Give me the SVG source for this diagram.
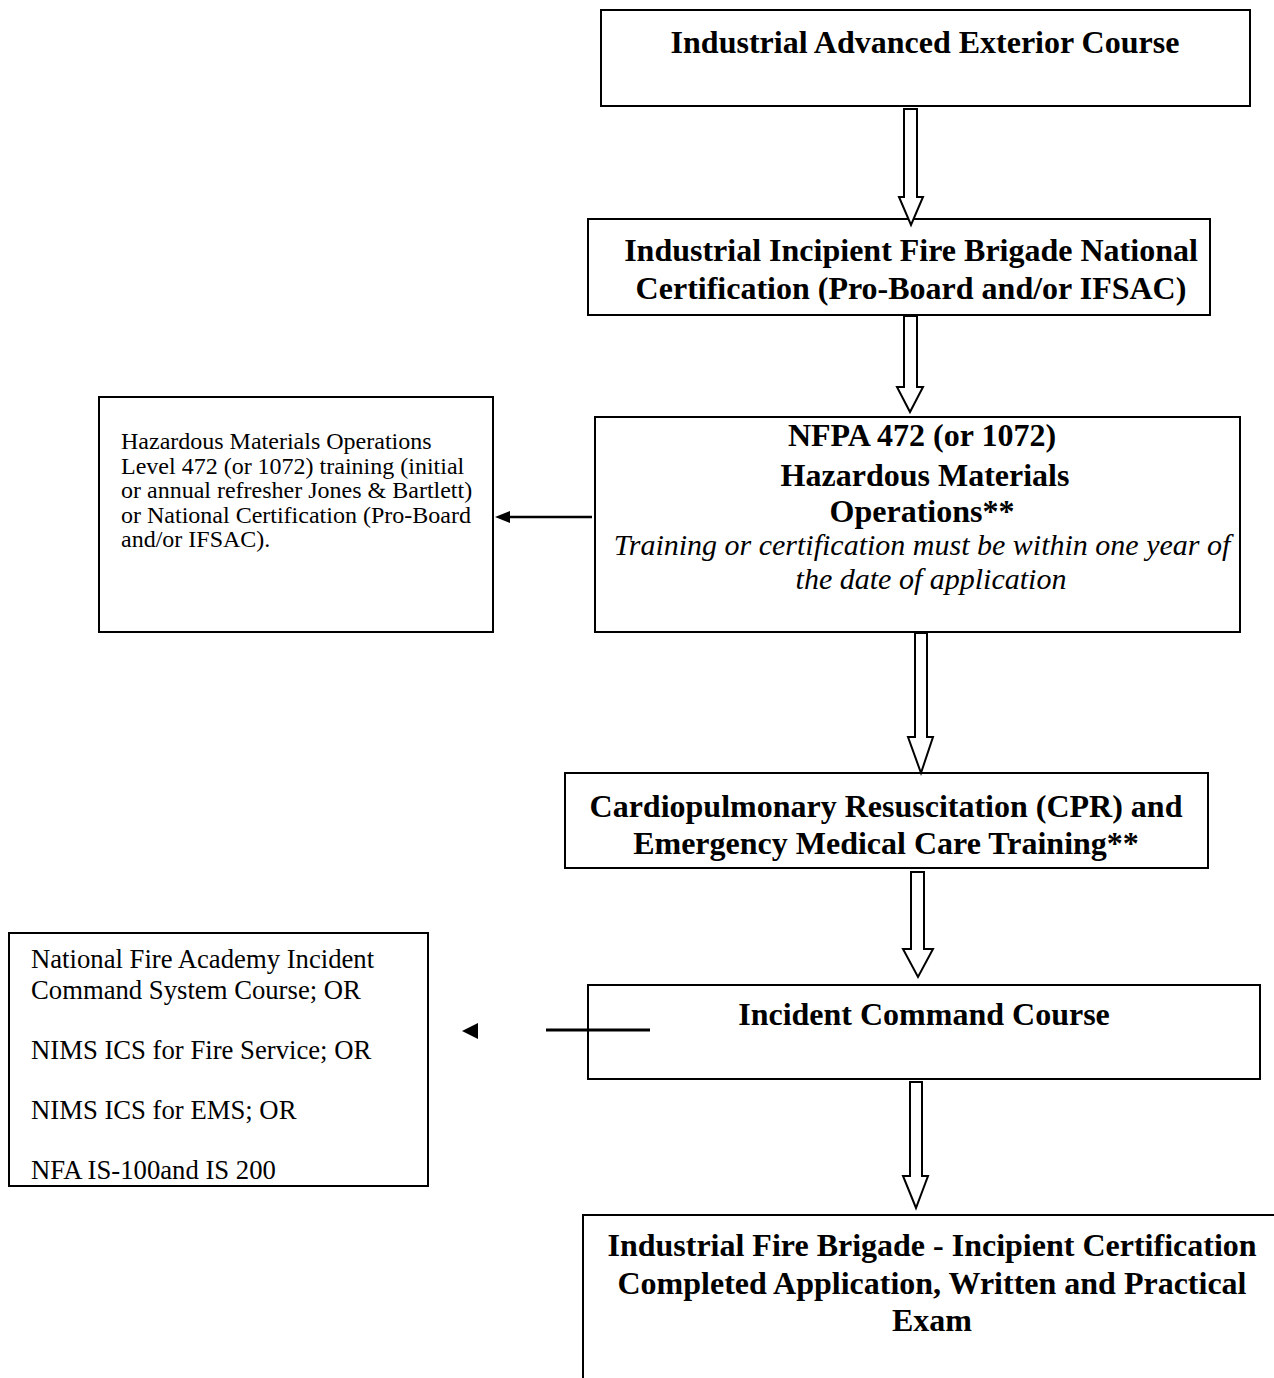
<svg xmlns="http://www.w3.org/2000/svg" width="1274" height="1378" viewBox="0 0 1274 1378">
<style>
.box{fill:#fff;stroke:#000;stroke-width:2}
.b{font-family:"Liberation Serif","Times New Roman",serif;font-weight:bold;font-size:32px;text-anchor:middle;fill:#000}
.i{font-family:"Liberation Serif","Times New Roman",serif;font-style:italic;font-size:30px;text-anchor:middle;fill:#000}
.s{font-family:"Liberation Serif","Times New Roman",serif;font-size:24px;fill:#000}
.m{font-family:"Liberation Serif","Times New Roman",serif;font-size:26.7px;fill:#000}
.ba{fill:#fff;stroke:#000;stroke-width:2;stroke-linejoin:miter}
</style>
<rect width="1274" height="1378" fill="#fff"/>
<g id="n1"><rect class="box" x="601" y="10" width="649" height="96"/>
<text class="b" x="925" y="53">Industrial Advanced Exterior Course</text></g>
<g id="n2"><rect class="box" x="588" y="219" width="622" height="96"/>
<text class="b" x="911" y="261">Industrial Incipient Fire Brigade National</text>
<text class="b" x="911" y="299">Certification (Pro-Board and/or IFSAC)</text></g>
<g id="n3"><rect class="box" x="595" y="417" width="645" height="215"/>
<text class="b" x="922" y="446">NFPA 472 (or 1072)</text>
<text class="b" x="925" y="486">Hazardous Materials</text>
<text class="b" x="922" y="522">Operations**</text>
<text class="i" x="922" y="555">Training or certification must be within one year of</text>
<text class="i" x="931" y="589">the date of application</text></g>
<g id="n3l"><rect class="box" x="99" y="397" width="394" height="235"/>
<text class="s" x="121" y="449">Hazardous Materials Operations</text>
<text class="s" x="121" y="474">Level 472 (or 1072) training (initial</text>
<text class="s" x="121" y="498">or annual refresher Jones &amp; Bartlett)</text>
<text class="s" x="121" y="523">or National Certification (Pro-Board</text>
<text class="s" x="121" y="547">and/or IFSAC).</text></g>
<g id="n4"><rect class="box" x="565" y="773" width="643" height="95"/>
<text class="b" x="886" y="817">Cardiopulmonary Resuscitation (CPR) and</text>
<text class="b" x="886" y="854">Emergency Medical Care Training**</text></g>
<g id="n5"><rect class="box" x="588" y="985" width="672" height="94"/>
<text class="b" x="924" y="1025">Incident Command Course</text></g>
<g id="n5l"><rect class="box" x="9" y="933" width="419" height="253"/>
<text class="m" x="31" y="968">National Fire Academy Incident</text>
<text class="m" x="31" y="999">Command System Course; OR</text>
<text class="m" x="31" y="1059">NIMS ICS for Fire Service; OR</text>
<text class="m" x="31" y="1119">NIMS ICS for EMS; OR</text>
<text class="m" x="31" y="1179">NFA IS-100and IS 200</text></g>
<g id="n6"><rect class="box" x="583" y="1215" width="720" height="200"/>
<text class="b" x="932" y="1256">Industrial Fire Brigade - Incipient Certification</text>
<text class="b" x="932" y="1294">Completed Application, Written and Practical</text>
<text class="b" x="932" y="1331">Exam</text></g>
<g id="connectors">
<path class="ba" d="M904,109 H917 V197 H923 L911,225 L899,197 H904 Z"/>
<path class="ba" d="M904,316 H917 V387 H923 L910,412 L897,387 H904 Z"/>
<path class="ba" d="M915,633 H927 V737 H933 L921,773 L908,737 H915 Z"/>
<path class="ba" d="M911,872 H924 V949 H933 L918,977 L903,949 H911 Z"/>
<path class="ba" d="M910,1082 H922 V1176 H928 L916,1208 L903,1176 H910 Z"/>
<line x1="592" y1="517" x2="508" y2="517" stroke="#000" stroke-width="2.5"/>
<path d="M495,517 L510,511 L510,523 Z" fill="#000"/>
<path d="M462,1031 L478,1023 L478,1039 Z" fill="#000"/>
<line x1="546" y1="1030" x2="650" y2="1030" stroke="#000" stroke-width="3"/>
</g>
</svg>
